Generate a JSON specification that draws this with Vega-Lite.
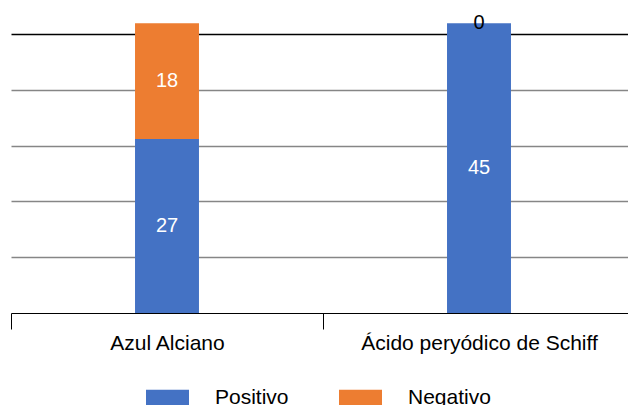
{
  "$schema": "https://vega.github.io/schema/vega-lite/v6.json",
  "width": 624,
  "height": 313,
  "autosize": {"type": "none"},
  "padding": {"left": 11, "top": 0, "right": 0, "bottom": 92},
  "background": "white",
  "config": {"view": {"stroke": null}, "font": "Liberation Sans"},
  "data": {
    "values": [
      {"prueba": "Azul Alciano", "tipo": "Positivo", "n": 27},
      {"prueba": "Azul Alciano", "tipo": "Negativo", "n": 18},
      {"prueba": "Ácido peryódico de Schiff", "tipo": "Positivo", "n": 45},
      {"prueba": "Ácido peryódico de Schiff", "tipo": "Negativo", "n": 0}
    ]
  },
  "transform": [
    {"stack": "n", "groupby": ["prueba"], "sort": [{"field": "tipo", "order": "descending"}], "as": ["n0", "n1"]},
    {"calculate": "(datum.n0 + datum.n1) / 2", "as": "mid"}
  ],
  "encoding": {
    "x": {
      "field": "prueba",
      "type": "nominal",
      "sort": null,
      "scale": {"paddingInner": 0, "paddingOuter": 0},
      "axis": {
        "title": null,
        "labelAngle": 0,
        "tickBand": "extent",
        "tickSize": 16,
        "tickColor": "black",
        "domainColor": "black",
        "labelFontSize": 21,
        "labelColor": "black",
        "labelPadding": 3,
        "labelLimit": 0,
        "grid": false
      }
    }
  },
  "layer": [
    {
      "mark": {"type": "bar", "width": {"band": 0.205}},
      "encoding": {
        "y": {
          "field": "n0",
          "type": "quantitative",
          "scale": {"domain": [0, 48.6], "nice": false},
          "axis": {
            "title": null,
            "labels": false,
            "ticks": false,
            "domain": false,
            "grid": true,
            "values": [8.66, 17.32, 25.98, 34.64, 43.3],
            "gridColor": {"condition": {"test": "datum.value > 40", "value": "black"}, "value": "#868686"},
            "gridWidth": 1.3
          }
        },
        "y2": {"field": "n1"},
        "color": {
          "field": "tipo",
          "type": "nominal",
          "scale": {"domain": ["Positivo", "Negativo"], "range": ["#4472C4", "#ED7D31"]},
          "legend": {
            "title": null,
            "orient": "none",
            "legendX": 135,
            "legendY": 376,
            "direction": "horizontal",
            "symbolType": "M-1,-0.372H1V0.372H-1Z",
            "symbolSize": 1849,
            "symbolStrokeWidth": 0,
            "symbolOpacity": 1,
            "labelFontSize": 21,
            "labelColor": "black",
            "labelOffset": 26,
            "labelLimit": 0,
            "columnPadding": 50,
            "padding": 0
          }
        }
      }
    },
    {
      "mark": {"type": "text", "fontSize": 20, "baseline": "middle", "align": "center"},
      "encoding": {
        "y": {"field": "mid", "type": "quantitative"},
        "text": {"field": "n", "type": "quantitative"},
        "color": {"condition": {"test": "datum.n === 0", "value": "black"}, "value": "white"}
      }
    }
  ]
}
